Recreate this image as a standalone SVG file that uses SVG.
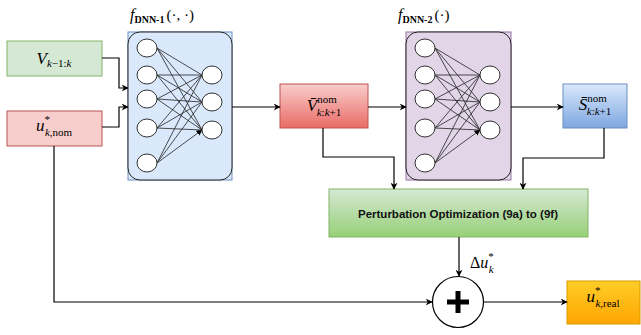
<svg xmlns="http://www.w3.org/2000/svg" width="641" height="335" viewBox="0 0 641 335">
<defs>
<linearGradient id="gRed" x1="0" y1="0" x2="0" y2="1"><stop offset="0" stop-color="#f8cecc"/><stop offset="1" stop-color="#ea6b66"/></linearGradient>
<linearGradient id="gBlue" x1="0" y1="0" x2="0" y2="1"><stop offset="0" stop-color="#dae8fc"/><stop offset="1" stop-color="#7ea6e0"/></linearGradient>
<linearGradient id="gGreen" x1="0" y1="0" x2="0" y2="1"><stop offset="0" stop-color="#d5e8d4"/><stop offset="1" stop-color="#97d077"/></linearGradient>
<linearGradient id="gOrange" x1="0" y1="0" x2="0" y2="1"><stop offset="0" stop-color="#ffcd28"/><stop offset="1" stop-color="#ffa500"/></linearGradient>
<marker id="arr" viewBox="0 0 10 10" refX="9" refY="5" markerWidth="7" markerHeight="7" orient="auto" markerUnits="userSpaceOnUse"><path d="M0,0 L10,5 L0,10 L3,5 z" fill="#000"/></marker>
<marker id="arrs" viewBox="0 0 10 10" refX="9" refY="5" markerWidth="6" markerHeight="6" orient="auto" markerUnits="userSpaceOnUse"><path d="M0,0 L10,5 L0,10 z" fill="#000"/></marker>
</defs>
<style>
.m{font-family:"Liberation Serif","DejaVu Serif",serif;fill:#000}
.i{font-style:italic}
.n{fill:#fff;stroke:#333;stroke-width:1}
.e{stroke:#222;stroke-width:0.8;fill:none;marker-end:url(#arrs)}
.c{stroke:#000;stroke-width:1.2;fill:none;marker-end:url(#arr)}
</style>

<g id="V_in">
<rect x="7" y="41" width="95" height="35" fill="#d5e8d4" stroke="#82b366"/>
<text class="m" x="54" y="64" text-anchor="middle"><tspan class="i" font-size="17">V</tspan><tspan font-size="11" dy="3"><tspan class="i">k</tspan>−1:<tspan class="i">k</tspan></tspan></text>
</g>

<g id="u_nom">
<rect x="7" y="111" width="95" height="35" fill="#f8cecc" stroke="#b85450"/>
<text class="m" x="54" y="131" text-anchor="middle"><tspan class="i" font-size="17">u</tspan><tspan font-size="11" dy="-8">*</tspan><tspan font-size="11" dx="-5" dy="13"><tspan class="i">k</tspan>,nom</tspan></text>
</g>

<g id="dnn1">
<rect x="128" y="32" width="104" height="148" fill="#dae8fc" stroke="#6c8ebf"/>
<rect x="128" y="32" width="104" height="148" rx="12" fill="#dae8fc" stroke="#222"/>
<text class="m" x="130" y="20"><tspan class="i" font-size="16">f</tspan><tspan font-size="10" font-weight="bold" dy="3">DNN-1</tspan><tspan font-size="15" dy="-3" dx="2">(·, ·)</tspan></text>
<path class="e" d="M157,48 L202,75 M157,48 L202,102 M157,48 L202,130 M157,75 L202,75 M157,75 L202,102 M157,75 L202,130 M157,99 L202,75 M157,99 L202,102 M157,99 L202,130 M157,128 L202,75 M157,128 L202,102 M157,128 L202,130 M157,163 L202,75 M157,163 L202,102 M157,163 L202,130"/>
<ellipse class="n" cx="147" cy="48" rx="10" ry="9"/>
<ellipse class="n" cx="147" cy="75" rx="10" ry="9"/>
<ellipse class="n" cx="147" cy="99" rx="10" ry="9"/>
<ellipse class="n" cx="147" cy="128" rx="10" ry="9"/>
<ellipse class="n" cx="147" cy="163" rx="10" ry="9"/>
<ellipse class="n" cx="212" cy="75" rx="10" ry="9"/>
<ellipse class="n" cx="212" cy="102" rx="10" ry="9"/>
<ellipse class="n" cx="212" cy="130" rx="10" ry="9"/>
</g>

<g id="V_nom">
<rect x="280" y="84" width="88" height="44" fill="url(#gRed)" stroke="#b85450"/>
<text class="m" x="324" y="111" text-anchor="middle"><tspan class="i" font-size="17">V̄</tspan><tspan font-size="11" dy="-8">nom</tspan><tspan font-size="11" dx="-20" dy="13"><tspan class="i">k</tspan>:<tspan class="i">k</tspan>+1</tspan></text>
</g>

<g id="dnn2">
<rect x="406" y="32" width="105" height="148" fill="#e1d5e7" stroke="#9673a6"/>
<rect x="406" y="32" width="105" height="148" rx="12" fill="#e1d5e7" stroke="#222"/>
<text class="m" x="398" y="20"><tspan class="i" font-size="16">f</tspan><tspan font-size="10" font-weight="bold" dy="3">DNN-2</tspan><tspan font-size="15" dy="-3" dx="2">(·)</tspan></text>
<path class="e" d="M435,48 L480,75 M435,48 L480,102 M435,48 L480,130 M435,75 L480,75 M435,75 L480,102 M435,75 L480,130 M435,99 L480,75 M435,99 L480,102 M435,99 L480,130 M435,128 L480,75 M435,128 L480,102 M435,128 L480,130 M435,163 L480,75 M435,163 L480,102 M435,163 L480,130"/>
<ellipse class="n" cx="425" cy="48" rx="10" ry="9"/>
<ellipse class="n" cx="425" cy="75" rx="10" ry="9"/>
<ellipse class="n" cx="425" cy="99" rx="10" ry="9"/>
<ellipse class="n" cx="425" cy="128" rx="10" ry="9"/>
<ellipse class="n" cx="425" cy="163" rx="10" ry="9"/>
<ellipse class="n" cx="490" cy="75" rx="10" ry="9"/>
<ellipse class="n" cx="490" cy="102" rx="10" ry="9"/>
<ellipse class="n" cx="490" cy="130" rx="10" ry="9"/>
</g>

<g id="S_nom">
<rect x="563" y="84" width="64" height="44" fill="url(#gBlue)" stroke="#6c8ebf"/>
<text class="m" x="595" y="110" text-anchor="middle"><tspan class="i" font-size="17">S̄</tspan><tspan font-size="11" dy="-8">nom</tspan><tspan font-size="11" dx="-20" dy="13"><tspan class="i">k</tspan>:<tspan class="i">k</tspan>+1</tspan></text>
</g>

<g id="opt">
<rect x="329" y="189" width="259" height="48" fill="url(#gGreen)" stroke="#82b366"/>
<text x="458" y="218" text-anchor="middle" font-family="'Liberation Sans',Arial,sans-serif" font-size="11.5" font-weight="bold" fill="#111">Perturbation Optimization (9a) to (9f)</text>
</g>

<g id="sum">
<circle cx="458" cy="302" r="25.5" fill="#fff" stroke="#000" stroke-width="1.2"/>
<path d="M458,291 V313 M447,302 H469" stroke="#000" stroke-width="5"/>
</g>

<g id="u_real">
<rect x="567" y="281" width="73" height="43" fill="url(#gOrange)" stroke="#d79b00"/>
<text class="m" x="603" y="302" text-anchor="middle"><tspan class="i" font-size="17">u</tspan><tspan font-size="11" dy="-8">*</tspan><tspan font-size="11" dx="-5" dy="13"><tspan class="i">k</tspan>,real</tspan></text>
</g>

<g id="connectors">
<path class="c" d="M102,58 H119 V88 H128"/>
<path class="c" d="M102,127 H119 V107 H128"/>
<path class="c" d="M232,107 H280"/>
<path class="c" d="M368,107 H406"/>
<path class="c" d="M511,107 H563"/>
<path class="c" d="M323,128 V157 H394 V189"/>
<path class="c" d="M604,128 V158 H523 V189"/>
<path class="c" d="M459,237 V276"/>
<path class="c" d="M54,146 V302 H432"/>
<path class="c" d="M484,302 H567"/>
<text class="m" x="470" y="268"><tspan font-size="16">Δ</tspan><tspan class="i" font-size="16">u</tspan><tspan font-size="11" dy="-8">*</tspan><tspan class="i" font-size="11" dx="-5" dy="13">k</tspan></text>
</g>
</svg>
